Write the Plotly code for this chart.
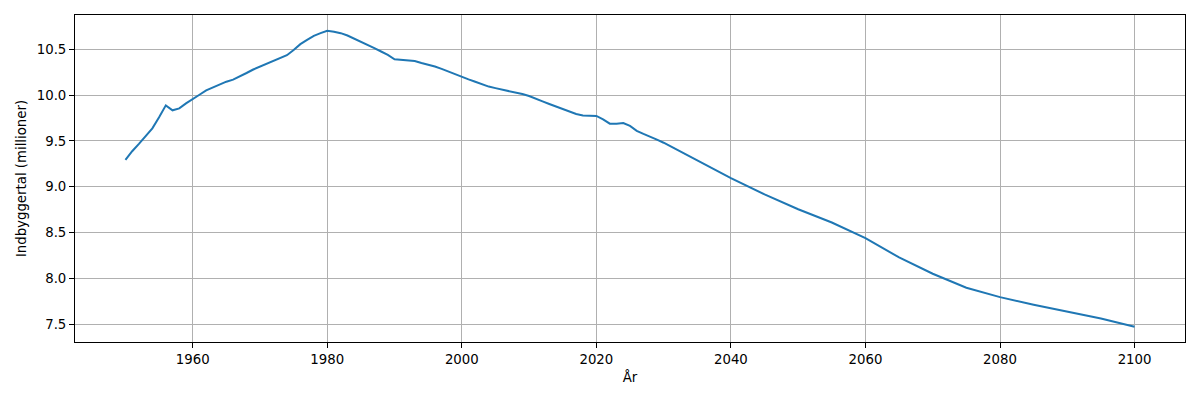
"""Indbyggertal 1950-2100 (millioner) as a plain line chart."""

import plotly.graph_objects as go

# years: yearly up to 2030, then every 5th year (projection)
years = list(range(1950, 2031)) + list(range(2035, 2101, 5))

population_mio = [
    9.293, 9.387, 9.467, 9.547, 9.637, 9.757, 9.887, 9.833, 9.854, 9.909,  # 1950-59
    9.960, 10.003, 10.050, 10.080, 10.118, 10.145, 10.168, 10.200, 10.240, 10.278,  # 1960-69
    10.310, 10.340, 10.368, 10.398, 10.434, 10.490, 10.554, 10.600, 10.645, 10.674,  # 1970-79
    10.700, 10.690, 10.674, 10.648, 10.615, 10.580, 10.543, 10.510, 10.474, 10.438,  # 1980-89
    10.390, 10.385, 10.383, 10.370, 10.348, 10.330, 10.310, 10.285, 10.255, 10.222,  # 1990-99
    10.195, 10.170, 10.145, 10.115, 10.092, 10.075, 10.060, 10.047, 10.026, 10.010,  # 2000-09
    9.989, 9.963, 9.930, 9.902, 9.876, 9.851, 9.826, 9.793, 9.778, 9.774,  # 2010-19
    9.772, 9.735, 9.688, 9.688, 9.695, 9.663, 9.609, 9.576, 9.547, 9.514,  # 2020-29
    9.480,  # 2030
    9.285, 9.093, 8.916, 8.755, 8.610, 8.440, 8.230, 8.052, 7.900, 7.797,  # 2035-80
    7.715, 7.640, 7.565, 7.475,  # 2085-2100
]

x_ticks = [1960, 1980, 2000, 2020, 2040, 2060, 2080, 2100]
y_ticks = [7.5, 8.0, 8.5, 9.0, 9.5, 10.0, 10.5]

FONT = dict(family="DejaVu Sans", size=13.3, color="black")

fig = go.Figure()
fig.add_trace(
    go.Scatter(
        x=years,
        y=population_mio,
        mode="lines",
        line=dict(color="#1f77b4", width=2),
        showlegend=False,
    )
)

axis_style = dict(
    showline=True,
    linecolor="black",
    linewidth=1,
    mirror=True,
    ticks="outside",
    ticklen=5,
    tickwidth=1,
    tickcolor="black",
    showgrid=True,
    gridcolor="#b0b0b0",
    gridwidth=1,
    zeroline=False,
    tickfont=FONT,
)

fig.update_xaxes(
    range=[1942.5, 2107.5],
    tickvals=x_ticks,
    title=dict(text="År", font=FONT, standoff=6),
    **axis_style,
)
fig.update_yaxes(
    range=[7.308, 10.872],
    tickvals=y_ticks,
    tickformat=".1f",
    title=dict(text="Indbyggertal (millioner)", font=FONT, standoff=7),
    **axis_style,
)

# page body has an 8px margin, so the margins are shifted to compensate
fig.update_layout(
    width=1200,
    height=400,
    margin=dict(l=67, r=23, t=7, b=66),
    plot_bgcolor="white",
    paper_bgcolor="white",
    font=FONT,
)

fig.write_html("out.html")
